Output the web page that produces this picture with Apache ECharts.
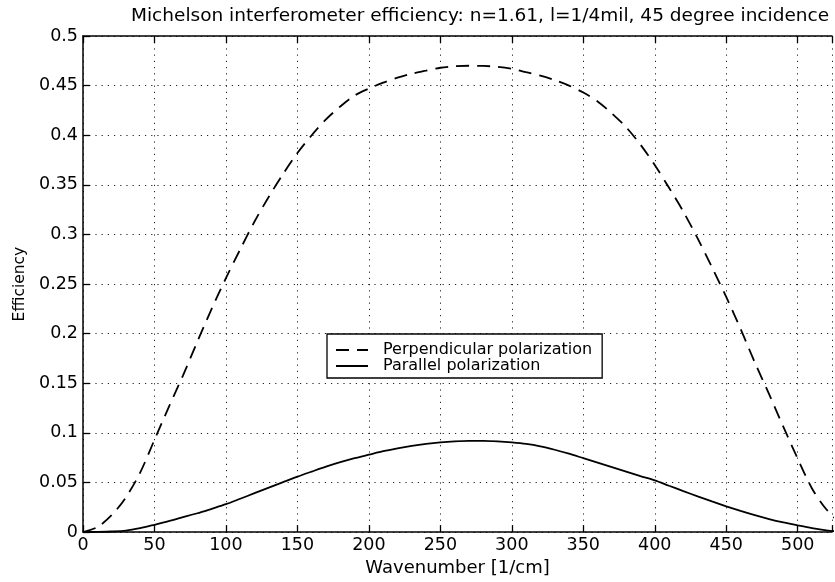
<!DOCTYPE html>
<html>
<head>
<meta charset="utf-8">
<script src="https://cdn.jsdelivr.net/npm/echarts@6/dist/echarts.min.js"></script>
<style>
html,body{margin:0;padding:0;background:#fff;}
#c{width:835px;height:582px;}
</style>
</head>
<body>
<div id="c"></div>
<script>
// Wavenumber samples [1/cm]
const wavenumber = [0,10,20,30,40,50,60,70,80,90,100,110,120,130,140,150,160,170,180,190,200,210,220,230,240,250,260,270,280,290,300,310,320,330,340,350,360,370,380,390,400,410,420,430,440,450,460,470,480,490,500,510,520,530,540];
// Perpendicular polarization efficiency
const perpendicular = [0,0.005,0.017,0.035,0.060,0.093,0.126,0.158,0.192,0.225,0.256,0.285,0.313,0.338,0.361,0.382,0.400,0.416,0.429,0.440,0.447,0.453,0.458,0.462,0.465,0.468,0.4695,0.470,0.4698,0.469,0.467,0.4635,0.4600,0.4555,0.4500,0.4430,0.4340,0.4220,0.4080,0.3905,0.370,0.347,0.323,0.296,0.267,0.237,0.205,0.171,0.139,0.106,0.074,0.044,0.023,0.009,0.001];
// Parallel polarization efficiency
const parallel = [0,0.0002,0.0006,0.0015,0.0040,0.0074,0.0110,0.0150,0.0190,0.0235,0.0281,0.0336,0.0392,0.0448,0.0504,0.0559,0.0610,0.0660,0.0705,0.0745,0.0780,0.0815,0.0845,0.0870,0.0890,0.0905,0.0915,0.0920,0.0920,0.0915,0.0905,0.0890,0.0865,0.0830,0.0790,0.0745,0.0700,0.0655,0.0610,0.0565,0.0522,0.0467,0.0413,0.0360,0.0309,0.0260,0.0214,0.0171,0.0132,0.0098,0.0068,0.0040,0.0018,0.0005,0];

const titleText = 'Michelson interferometer efficiency: n=1.61, l=1/4mil, 45 degree incidence';
const xName = 'Wavenumber [1/cm]';
const yName = 'Efficiency';
const seriesNames = ['Perpendicular polarization', 'Parallel polarization'];
const xTickStep = 50;
const yTickStep = 0.05;

const FONT = 'DejaVu Sans';
const chart = echarts.init(document.getElementById('c'), null, {renderer: 'canvas'});

const dotted = {color: '#222', width: 1, type: [1.2, 5]};
const axisLineStyle = {color: '#000', width: 1.5};
const tickStyle = {color: '#000', width: 1.3};

const option = {
  animation: false,
  backgroundColor: '#fff',
  title: {
    text: titleText,
    left: 126,
    top: 2,
    textStyle: {fontFamily: FONT, fontSize: 18.5, fontWeight: 'normal', color: '#000'}
  },
  grid: {left: 83, right: 0, top: 36, bottom: 48, containLabel: false},
  legend: {
    left: 327, top: 334,
    orient: 'vertical',
    backgroundColor: '#fff',
    borderColor: '#000', borderWidth: 1.3,
    padding: [8, 10, 4, 8],
    itemGap: 0,
    itemWidth: 32, itemHeight: 12,
    itemStyle: {opacity: 0},
    textStyle: {fontFamily: FONT, fontSize: 16, color: '#000', lineHeight: 15, padding: [0, 0, 0, 10]},
    data: seriesNames
  },
  xAxis: [{
    type: 'value', min: 0, max: 524, interval: xTickStep,
    position: 'bottom',
    name: xName, nameLocation: 'middle', nameGap: 26,
    nameTextStyle: {fontFamily: FONT, fontSize: 18, color: '#000'},
    axisLine: {show: true, lineStyle: axisLineStyle},
    axisTick: {show: true, inside: true, length: 7, lineStyle: tickStyle},
    axisLabel: {fontFamily: FONT, fontSize: 17.5, color: '#000', margin: 4,
      formatter: v => (v % xTickStep === 0 ? String(v) : '')},
    splitLine: {show: true, lineStyle: dotted}
  }, {
    type: 'value', min: 0, max: 524, interval: xTickStep,
    position: 'top',
    axisLine: {show: true, lineStyle: axisLineStyle},
    axisTick: {show: true, inside: true, length: 7, lineStyle: tickStyle},
    axisLabel: {show: false},
    splitLine: {show: false}
  }],
  yAxis: [{
    type: 'value', min: 0, max: 0.5, interval: yTickStep,
    name: yName, nameLocation: 'middle', nameGap: 54, nameRotate: 90,
    nameTextStyle: {fontFamily: FONT, fontSize: 15.5, color: '#000'},
    axisLine: {show: true, lineStyle: axisLineStyle},
    axisTick: {show: true, inside: true, length: 7, lineStyle: tickStyle},
    axisLabel: {fontFamily: FONT, fontSize: 17.5, color: '#000', margin: 5,
      formatter: v => String(+v.toFixed(2))},
    splitLine: {show: true, lineStyle: dotted}
  }],
  series: [{
    name: seriesNames[0],
    type: 'line',
    data: wavenumber.map((x, i) => [x, perpendicular[i]]),
    showSymbol: false, symbol: 'none', smooth: 0.3,
    lineStyle: {color: '#000', width: 1.8, type: [13, 8]},
    itemStyle: {color: '#000'},
    clip: true
  }, {
    name: seriesNames[1],
    type: 'line',
    data: wavenumber.map((x, i) => [x, parallel[i]]),
    showSymbol: false, symbol: 'none', smooth: 0.3,
    lineStyle: {color: '#000', width: 1.8, type: 'solid'},
    itemStyle: {color: '#000'},
    clip: true
  }]
};
chart.setOption(option);
</script>
</body>
</html>
